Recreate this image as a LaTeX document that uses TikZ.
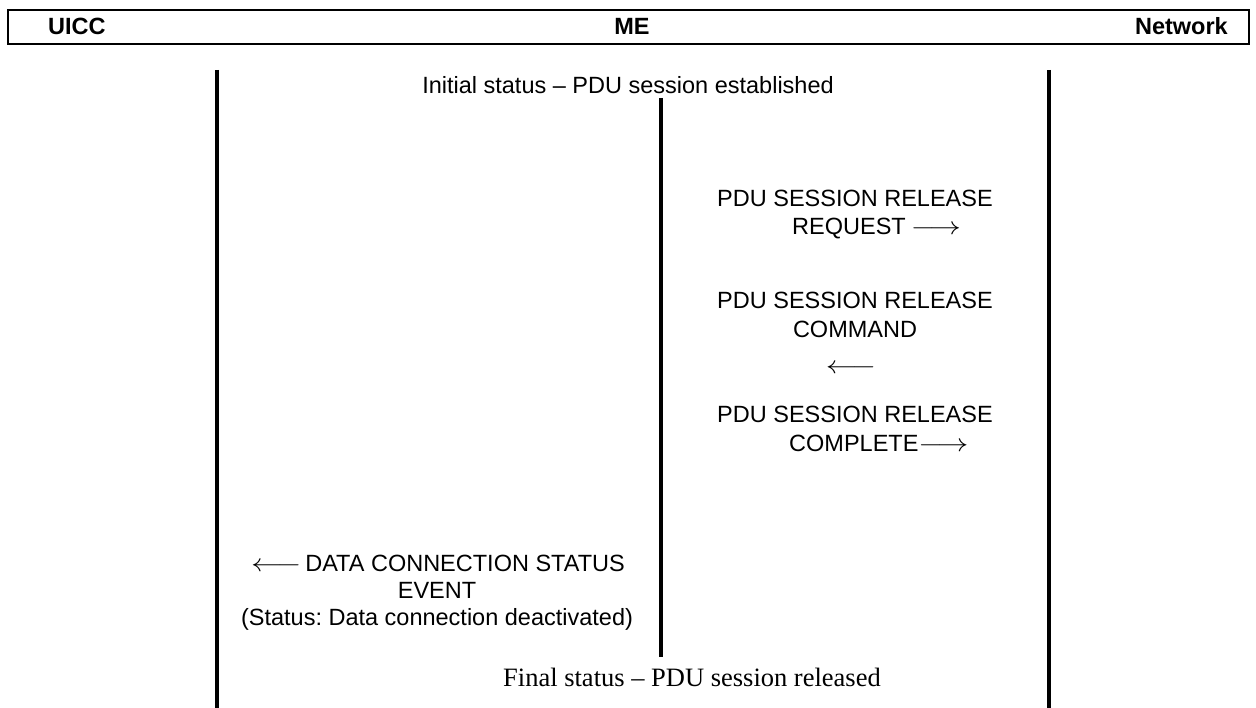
\documentclass[tikz,border=0pt]{standalone}
\usepackage{fontspec}
\setmainfont{Liberation Sans}
\newfontfamily\timesf{Liberation Serif}
\frenchspacing
\newcommand{\rarr}{\scalebox{1.25}[1]{$\longrightarrow$}}
\newcommand{\larr}{\scalebox{1.25}[1]{$\longleftarrow$}}
\begin{document}
\begin{tikzpicture}[x=1pt,y=-1pt,
  hdr/.style={font=\fontsize{23.5}{27}\selectfont\bfseries, inner sep=0pt},
  msg/.style={font=\fontsize{23.5}{27}\selectfont, inner sep=0pt},
  fin/.style={font=\fontsize{26.5}{30}\selectfont\timesf, inner sep=0pt},
  lifeline/.style={line width=4pt},
  hbox/.style={line width=2pt}]
\useasboundingbox (0,0) rectangle (1256,708);
% header box
\draw[hbox] (8,10) rectangle (1249,44);
\node[hdr, anchor=base west] (uicc) at (48,35) {UICC};
\node[hdr, anchor=base] (me) at (632,35) {ME};
\node[hdr, anchor=base east] (net) at (1228,35) {Network};
% lifelines
\coordinate (uTop) at (217,70);
\coordinate (uBot) at (217,708);
\coordinate (mTop) at (661,98);
\coordinate (mBot) at (661,657);
\coordinate (nTop) at (1049,70);
\coordinate (nBot) at (1049,708);
\draw[lifeline] (uTop) -- (uBot);
\draw[lifeline] (mTop) -- (mBot);
\draw[lifeline] (nTop) -- (nBot);
% texts
\node[msg, anchor=base] (init) at (628,94) {Initial status – PDU session established};
\node[msg, anchor=base] (m1a) at (855,207) {PDU SESSION RELEASE};
\node[msg, anchor=base west] (m1b) at (792,235) {REQUEST\hspace{5pt}\rarr};
\node[msg, anchor=base] (m2a) at (855,309) {PDU SESSION RELEASE};
\node[msg, anchor=base] (m2b) at (855,338) {COMMAND};
\node[msg] (m2c) at (851,369) {\larr};
\node[msg, anchor=base] (m3a) at (855,423) {PDU SESSION RELEASE};
\node[msg, anchor=base west] (m3b) at (789,451) {COMPLETE\rarr};
\node[msg, anchor=base] (d1) at (438,571) {\larr\hspace{4pt}DATA CONNECTION STATUS};
\node[msg, anchor=base] (d2) at (437,598) {EVENT};
\node[msg, anchor=base] (d3) at (437,625) {(Status: Data connection deactivated)};
\node[fin, anchor=base] (final) at (692,686) {Final status – PDU session released};
\end{tikzpicture}
\end{document}
